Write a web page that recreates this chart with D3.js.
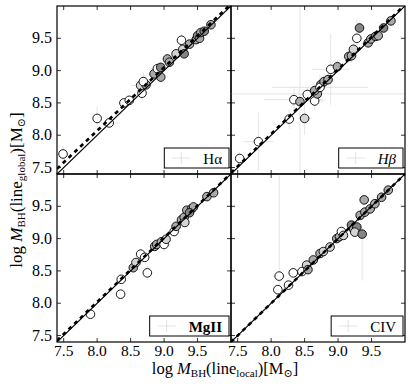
<!DOCTYPE html>
<html>
<head>
<meta charset="utf-8">
<script src="https://cdnjs.cloudflare.com/ajax/libs/d3/7.8.5/d3.min.js"></script>
<style>
  body { margin: 0; background: #fff; }
  text { font-family: "Liberation Serif", "DejaVu Serif", serif; }
</style>
</head>
<body>
<svg id="chart" width="411" height="389"></svg>
<script>
//------------------------------------------------------------------------------
//Data  [x local, y global, xerr, yerr (or [lo, hi]), group]
//group: 0 open, 1 light, 2 mid, 3 dark
//------------------------------------------------------------------------------
const haPts = [
  [7.49,7.71,0.04,0.12,0], [8.00,8.26,0.05,0.18,0], [8.18,8.19,0.16,0.05,0],
  [8.40,8.50,0.05,0.05,0], [8.48,8.54,0.05,0.05,0], [8.67,8.65,0.08,0.12,0],
  [8.65,8.77,0.15,0.10,1], [8.73,8.78,0.10,0.15,2], [8.69,8.83,0.12,0.15,0],
  [8.85,8.95,0.08,0.08,2], [8.90,9.03,0.10,0.10,0], [8.95,8.90,0.06,0.08,2],
  [8.95,9.05,0.05,0.05,3], [9.05,9.18,0.05,0.08,2], [9.08,9.13,0.05,0.05,2],
  [9.18,9.26,0.05,0.05,1], [9.26,9.47,0.04,0.10,0], [9.28,9.33,0.05,0.05,1],
  [9.30,9.26,0.04,0.04,3], [9.38,9.41,0.04,0.04,2], [9.48,9.48,0.03,0.03,2],
  [9.50,9.54,0.03,0.03,3], [9.53,9.50,0.03,0.03,2], [9.55,9.59,0.03,0.03,2],
  [9.60,9.61,0.03,0.03,3], [9.70,9.71,0.03,0.03,2]
];

const hbPts = [
  [7.53,7.64,0.05,0.10,0], [7.81,7.90,0.22,0.45,0], [8.27,8.25,0.08,0.15,0],
  [8.50,8.26,0.10,0.25,1], [8.34,8.55,0.45,0.20,0], [8.43,8.52,0.10,1.50,2],
  [8.65,8.53,0.15,0.15,0], [8.54,8.63,0.10,0.10,0], [8.69,8.64,1.45,0.10,2],
  [8.65,8.69,0.10,0.10,2], [8.74,8.78,0.10,0.10,2], [8.73,8.74,0.72,0.20,0],
  [8.79,8.83,0.10,0.10,2], [8.85,8.86,0.10,0.10,2], [8.89,9.02,0.28,0.55,0],
  [8.99,9.06,0.10,0.10,2], [9.16,9.22,0.08,0.10,2], [9.20,9.23,0.08,0.10,2],
  [9.23,9.33,0.08,0.10,1], [9.28,9.50,0.08,0.30,0], [9.32,9.66,0.05,0.10,3],
  [9.45,9.43,0.05,0.05,2], [9.49,9.49,0.05,0.05,2], [9.56,9.53,0.05,0.05,3],
  [9.60,9.54,0.05,0.05,2], [9.68,9.66,0.05,0.05,3], [9.79,9.77,0.05,0.05,2]
];

const mgPts = [
  [7.90,7.83,0.05,0.08,0], [8.35,8.14,0.03,0.05,0], [8.36,8.37,0.04,0.05,0],
  [8.54,8.55,0.05,0.05,2], [8.58,8.63,0.05,0.05,1], [8.65,8.76,0.05,0.05,0],
  [8.71,8.71,0.06,0.06,0], [8.75,8.47,0.05,0.10,0], [8.86,8.88,0.05,0.05,2],
  [8.89,8.91,0.05,0.05,2], [8.96,8.95,0.05,0.08,2], [9.00,8.91,0.10,0.12,0],
  [9.03,8.99,0.05,0.05,1], [9.15,9.11,0.10,0.08,0], [9.18,9.19,0.04,0.04,2],
  [9.26,9.29,0.04,0.04,2], [9.30,9.33,0.04,0.04,2], [9.31,9.25,0.04,0.04,1],
  [9.34,9.44,0.04,0.04,2], [9.41,9.46,0.04,0.04,2], [9.44,9.49,0.04,0.04,2],
  [9.38,9.40,0.04,0.04,3], [9.64,9.65,0.03,0.03,2], [9.74,9.71,0.03,0.03,2]
];

const civPts = [
  [8.10,8.21,0.04,0.05,0], [8.12,8.42,0.10,[0.44,1.6],0], [8.26,8.28,0.04,0.06,0],
  [8.33,8.47,0.05,0.05,0], [8.46,8.49,0.05,0.05,0], [8.53,8.59,0.05,0.08,1],
  [8.55,8.52,0.04,0.04,2], [8.63,8.67,0.04,0.04,2], [8.73,8.77,0.04,0.04,2],
  [8.78,8.80,0.04,0.04,1], [8.88,8.87,0.04,0.04,1], [8.98,9.00,0.04,0.04,2],
  [9.02,9.03,0.04,0.04,2], [9.05,9.11,0.04,0.04,0], [9.08,9.05,0.04,0.04,1],
  [9.20,9.21,0.04,0.05,3], [9.23,9.15,0.04,0.04,2], [9.28,9.18,0.04,0.04,3],
  [9.25,9.10,0.04,0.04,1], [9.36,9.07,0.04,[0.72,0.1],3], [9.33,9.36,0.04,0.04,2],
  [9.40,9.41,0.04,0.04,2], [9.48,9.46,0.04,0.04,2], [9.55,9.54,0.04,0.04,2],
  [9.39,9.60,0.04,0.04,2], [9.65,9.64,0.03,0.03,2], [9.75,9.75,0.03,0.03,2]
];

//fit lines [slope, intercept]
const haFit = [0.98, 0.23];
const hbFit = [1.0, 0.02];
const mgFit = [0.995, 0.06];
const civFit = [1.0, 0.0];

const axisDomain = [7.4, 10.0];
const tickValues = [7.5, 8.0, 8.5, 9.0, 9.5];
const lineNames = ["Hα", "Hβ", "MgII", "CIV"];

//------------------------------------------------------------------------------
//Layout
//------------------------------------------------------------------------------
const svg = d3.select("#chart");
const marginLeft = 57, marginTop = 6, pw = 174, ph = 168;
const fills = ["#ffffff", "#d4d4d4", "#aaaaaa", "#858585"];
const errColor = "#dadada";

const x = d3.scaleLinear().domain(axisDomain).range([0, pw]);
const y = d3.scaleLinear().domain(axisDomain).range([ph, 0]);

const panels = [
  { pts: haPts, fit: haFit, name: lineNames[0], col: 0, row: 0, style: "normal", weight: "normal" },
  { pts: hbPts, fit: hbFit, name: lineNames[1], col: 1, row: 0, style: "italic", weight: "normal" },
  { pts: mgPts, fit: mgFit, name: lineNames[2], col: 0, row: 1, style: "normal", weight: "bold" },
  { pts: civPts, fit: civFit, name: lineNames[3], col: 1, row: 1, style: "normal", weight: "normal" }
];

panels.forEach(function (p, i) {
  var g = svg.append("g")
    .attr("transform", "translate(" + (marginLeft + p.col * pw) + "," + (marginTop + p.row * ph) + ")");

  svg.append("clipPath").attr("id", "clip" + i)
    .append("rect").attr("width", pw).attr("height", ph);

  var inner = g.append("g").attr("clip-path", "url(#clip" + i + ")");

  // error bars
  var eb = inner.append("g").attr("stroke", errColor).attr("stroke-width", 0.7);
  p.pts.forEach(function (d) {
    var lo = Array.isArray(d[3]) ? d[3][0] : d[3];
    var hi = Array.isArray(d[3]) ? d[3][1] : d[3];
    eb.append("line")
      .attr("x1", x(d[0] - d[2])).attr("x2", x(d[0] + d[2]))
      .attr("y1", y(d[1])).attr("y2", y(d[1]));
    eb.append("line")
      .attr("x1", x(d[0])).attr("x2", x(d[0]))
      .attr("y1", y(d[1] - lo)).attr("y2", y(d[1] + hi));
  });

  // points
  inner.selectAll("circle")
    .data(p.pts)
    .enter()
    .append("circle")
    .attr("cx", function (d) { return x(d[0]); })
    .attr("cy", function (d) { return y(d[1]); })
    .attr("r", 4.3)
    .attr("fill", function (d) { return fills[d[4]]; })
    .attr("stroke", "#000")
    .attr("stroke-width", 0.9);

  // 1:1 line and fit line
  inner.append("line")
    .attr("x1", x(axisDomain[0])).attr("y1", y(axisDomain[0]))
    .attr("x2", x(axisDomain[1])).attr("y2", y(axisDomain[1]))
    .attr("stroke", "#000").attr("stroke-width", 1.2);
  inner.append("line")
    .attr("x1", x(axisDomain[0])).attr("y1", y(p.fit[0] * axisDomain[0] + p.fit[1]))
    .attr("x2", x(axisDomain[1])).attr("y2", y(p.fit[0] * axisDomain[1] + p.fit[1]))
    .attr("stroke", "#000").attr("stroke-width", 2.6)
    .attr("stroke-dasharray", "4,4");

  // ticks (inward, all sides)
  var tk = g.append("g").attr("stroke", "#000").attr("stroke-width", 0.8);
  tickValues.forEach(function (t) {
    tk.append("line").attr("x1", x(t)).attr("x2", x(t)).attr("y1", ph).attr("y2", ph - 4);
    tk.append("line").attr("x1", x(t)).attr("x2", x(t)).attr("y1", 0).attr("y2", 4);
    tk.append("line").attr("y1", y(t)).attr("y2", y(t)).attr("x1", 0).attr("x2", 4);
    tk.append("line").attr("y1", y(t)).attr("y2", y(t)).attr("x1", pw).attr("x2", pw - 4);
  });

  // frame
  g.append("rect").attr("width", pw).attr("height", ph)
    .attr("fill", "none").attr("stroke", "#000").attr("stroke-width", 1.2);

  // tick labels
  if (p.col == 0) {
    g.selectAll(".ylab").data(tickValues).enter().append("text")
      .attr("x", -5).attr("y", function (d) { return y(d) + 5; })
      .attr("text-anchor", "end").attr("font-size", "16px")
      .text(function (d) { return d.toFixed(1); });
  }
  if (p.row == 1) {
    g.selectAll(".xlab").data(tickValues).enter().append("text")
      .attr("x", function (d) { return x(d); }).attr("y", ph + 14)
      .attr("text-anchor", "middle").attr("font-size", "15.5px")
      .text(function (d) { return d.toFixed(1); });
  }

  // legend
  var lg = g.append("g");
  var lbl = lg.append("text")
    .attr("font-size", "15px")
    .attr("font-style", p.style)
    .attr("font-weight", p.weight)
    .attr("text-anchor", "end")
    .attr("x", pw - 9).attr("y", ph - 10)
    .text(p.name);
  var tw = lbl.node().getComputedTextLength();
  var bw = tw + 46, bx = pw - 2 - bw;
  lg.insert("rect", "text")
    .attr("x", bx).attr("y", ph - 26).attr("width", bw).attr("height", 20)
    .attr("fill", "#fff").attr("stroke", "#000").attr("stroke-width", 1);
  var cx = bx + 17, cy = ph - 16;
  lg.append("line").attr("x1", cx - 9).attr("x2", cx + 9).attr("y1", cy).attr("y2", cy)
    .attr("stroke", errColor).attr("stroke-width", 0.8);
  lg.append("line").attr("x1", cx).attr("x2", cx).attr("y1", cy - 6).attr("y2", cy + 6)
    .attr("stroke", errColor).attr("stroke-width", 0.8);
});

//------------------------------------------------------------------------------
//Axis titles
//------------------------------------------------------------------------------
function axisTitle(sel, sub) {
  sel.append("tspan").text("log ");
  sel.append("tspan").attr("font-style", "italic").text("M");
  sel.append("tspan").attr("font-size", "11px").attr("dy", 3).text("BH");
  sel.append("tspan").attr("dy", -3).text("(line");
  sel.append("tspan").attr("font-size", "11px").attr("dy", 3).text(sub);
  sel.append("tspan").attr("dy", -3).text(")[M");
  sel.append("tspan").attr("font-size", "11px").attr("dy", 3).text("⊙");
  sel.append("tspan").attr("dy", -3).text("]");
}

var xt = svg.append("text")
  .attr("x", marginLeft + pw - 6).attr("y", 374)
  .attr("text-anchor", "middle").attr("font-size", "16.5px");
axisTitle(xt, "local");

var yt = svg.append("text")
  .attr("transform", "translate(22," + (marginTop + ph + 16) + ") rotate(-90)")
  .attr("text-anchor", "middle").attr("font-size", "17px");
axisTitle(yt, "global");
</script>
</body>
</html>
